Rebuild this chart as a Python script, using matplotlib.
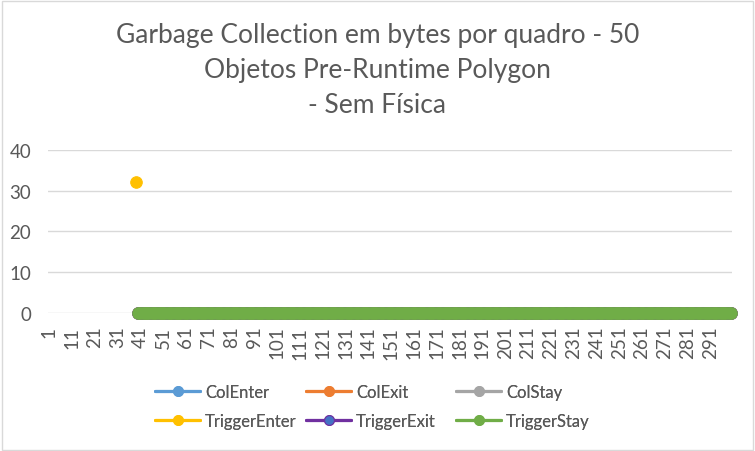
import numpy as np
import matplotlib
matplotlib.use("Agg")
import matplotlib.pyplot as plt
from matplotlib.patches import Rectangle

# frames 1..300; nothing recorded before frame 39/40
frames = np.arange(1, 301)
col_enter = [np.nan] * 39 + [0] * 261
col_exit = [np.nan] * 39 + [0] * 261
col_stay = [np.nan] * 39 + [0] * 261
trigger_enter = [np.nan] * 38 + [32] + [np.nan] * 261
trigger_exit = [np.nan] * 39 + [0] * 261
trigger_stay = [np.nan] * 39 + [0] * 261

series = [
    ("ColEnter", col_enter, "#5B9BD5", "#5B9BD5"),
    ("ColExit", col_exit, "#ED7D31", "#ED7D31"),
    ("ColStay", col_stay, "#A5A5A5", "#A5A5A5"),
    ("TriggerEnter", trigger_enter, "#FFC000", "#FFC000"),
    ("TriggerExit", trigger_exit, "#7030A0", "#4472C4"),
    ("TriggerStay", trigger_stay, "#70AD47", "#70AD47"),
]

title_lines = ["Garbage Collection em bytes por quadro - 50",
               "Objetos Pre-Runtime Polygon",
               "- Sem Física"]
text_color = "#595959"
grid_color = "#D9D9D9"

plt.rcParams["font.family"] = ["Lato", "DejaVu Sans"]

fig = plt.figure(figsize=(7.55, 4.52), dpi=100)
ax = fig.add_axes([0.0636, 0.3053, 0.906, 0.361])

lines = {}
for name, vals, color, face in series:
    (ln,) = ax.plot(frames, vals, color=color, lw=2.25, marker="o", ms=8.3,
                    markerfacecolor=face, markeredgecolor=color, mew=0.75,
                    solid_capstyle="round", label=name, clip_on=False)
    lines[name] = ln

ax.set_xlim(0.5, 300.5)
ax.set_ylim(0, 40)
ax.set_yticks([0, 10, 20, 30, 40])
ax.set_xticks(frames[::10])
ax.set_xticklabels([str(f) for f in frames[::10]], rotation=90)
ax.tick_params(axis="both", length=0, colors=text_color, labelsize=13.5)
ax.tick_params(axis="y", pad=12)
ax.tick_params(axis="x", pad=9)
ax.grid(axis="y", color=grid_color, lw=1)
ax.set_axisbelow(True)
for s in ax.spines.values():
    s.set_visible(False)

for i, line in enumerate(title_lines):
    fig.text(0.5, 1 - (43 + 35 * i) / 452, line, ha="center", va="baseline",
             fontsize=19, color=text_color)

# Excel lays the legend out in equal-width columns, so one small legend per column
columns = [["ColEnter", "TriggerEnter"], ["ColExit", "TriggerExit"], ["ColStay", "TriggerStay"]]
col_x = [155, 306, 456]
for names, x in zip(columns, col_x):
    leg = fig.legend([lines[n] for n in names], names, loc="upper left",
                     bbox_to_anchor=(x / 755, 1 - 385 / 452), frameon=False,
                     fontsize=12, labelcolor=text_color, handlelength=2.7,
                     handletextpad=0.3, labelspacing=0.75, borderpad=0,
                     borderaxespad=0, markerscale=0.85)
    fig.add_artist(leg)

fig.patches.append(Rectangle((0.002, 0.003), 0.995, 0.993, transform=fig.transFigure,
                             fill=False, edgecolor="#D9D9D9", lw=1))

fig.savefig("out.png", dpi=100)
